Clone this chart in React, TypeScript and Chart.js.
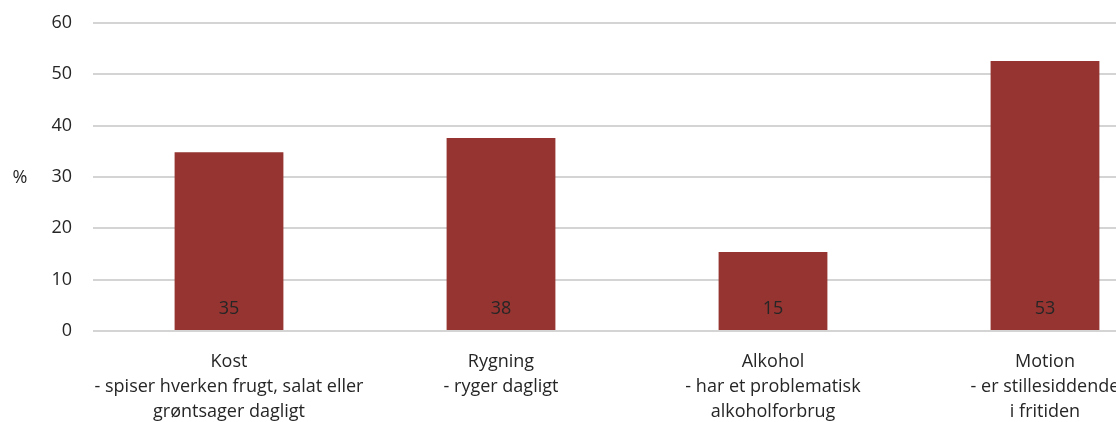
import React, { useEffect, useRef } from "react";
import { Chart, registerables } from "chart.js";

Chart.register(...registerables);

const categories: string[][] = [
  ["Kost", "- spiser hverken frugt, salat eller", "grøntsager dagligt"],
  ["Rygning", "- ryger dagligt"],
  ["Alkohol", "- har et problematisk", "alkoholforbrug"],
  ["Motion", "- er stillesiddende", "i fritiden"],
];
const values: number[] = [34.8, 37.6, 15.4, 52.6];
const valueLabels: string[] = ["35", "38", "15", "53"];
const yTicks = { min: 0, max: 60, step: 10 };
const axisTitle = "%";

const BAR_COLOR = "#953431";
const TEXT_COLOR = "#262626";
const FONT = "'Open Sans', sans-serif";
const FS = 18;

export default function App() {
  const ref = useRef<HTMLCanvasElement | null>(null);

  useEffect(() => {
    if (!ref.current) return;
    const labelPlugin = {
      id: "labels",
      afterDatasetsDraw(chart: any) {
        const ctx = chart.ctx;
        const meta = chart.getDatasetMeta(0);
        const y0 = chart.scales.y.getPixelForValue(0);
        ctx.save();
        ctx.fillStyle = TEXT_COLOR;
        ctx.font = `${FS}px ${FONT}`;
        ctx.textAlign = "center";
        ctx.textBaseline = "middle";
        meta.data.forEach((bar: any, i: number) => {
          ctx.fillText(valueLabels[i], bar.x, y0 - 22);
        });
        ctx.restore();
      },
      afterDraw(chart: any) {
        const ctx = chart.ctx;
        const a = chart.chartArea;
        ctx.save();
        ctx.fillStyle = TEXT_COLOR;
        ctx.font = `${FS}px ${FONT}`;
        ctx.textAlign = "center";
        ctx.textBaseline = "middle";
        ctx.fillText(axisTitle, 20, (a.top + a.bottom) / 2 + 1);
        ctx.restore();
      },
    };

    const chart = new Chart(ref.current, {
      type: "bar",
      data: {
        labels: categories,
        datasets: [
          {
            data: values,
            backgroundColor: BAR_COLOR,
            barPercentage: 0.4,
            categoryPercentage: 1,
          },
        ],
      },
      options: {
        responsive: false,
        animation: false,
        layout: { padding: { top: 23, right: 0, bottom: 0, left: 0 } },
        plugins: {
          legend: { display: false },
          tooltip: { enabled: false },
        },
        scales: {
          x: {
            grid: { display: false, drawTicks: false },
            border: { display: false },
            ticks: {
              color: TEXT_COLOR,
              font: { family: FONT, size: FS, lineHeight: 25 / FS },
              padding: 18,
              autoSkip: false,
              maxRotation: 0,
              minRotation: 0,
            },
          },
          y: {
            min: yTicks.min,
            max: yTicks.max,
            afterFit(scale: any) {
              scale.width = 93;
              scale.paddingTop = 0;
              scale.paddingBottom = 0;
            },
            grid: { color: "#d4d4d4", lineWidth: 2, drawTicks: false },
            border: { display: false },
            ticks: {
              stepSize: yTicks.step,
              color: TEXT_COLOR,
              font: { family: FONT, size: FS },
              padding: 21,
            },
          },
        },
      },
      plugins: [labelPlugin],
    });
    return () => chart.destroy();
  }, []);

  return (
    <div
      style={{
        position: "absolute",
        left: 0,
        top: 0,
        width: 1116,
        height: 422,
        overflow: "hidden",
        background: "#fff",
      }}
    >
      <canvas ref={ref} width={1181} height={442} style={{ display: "block" }} />
    </div>
  );
}
